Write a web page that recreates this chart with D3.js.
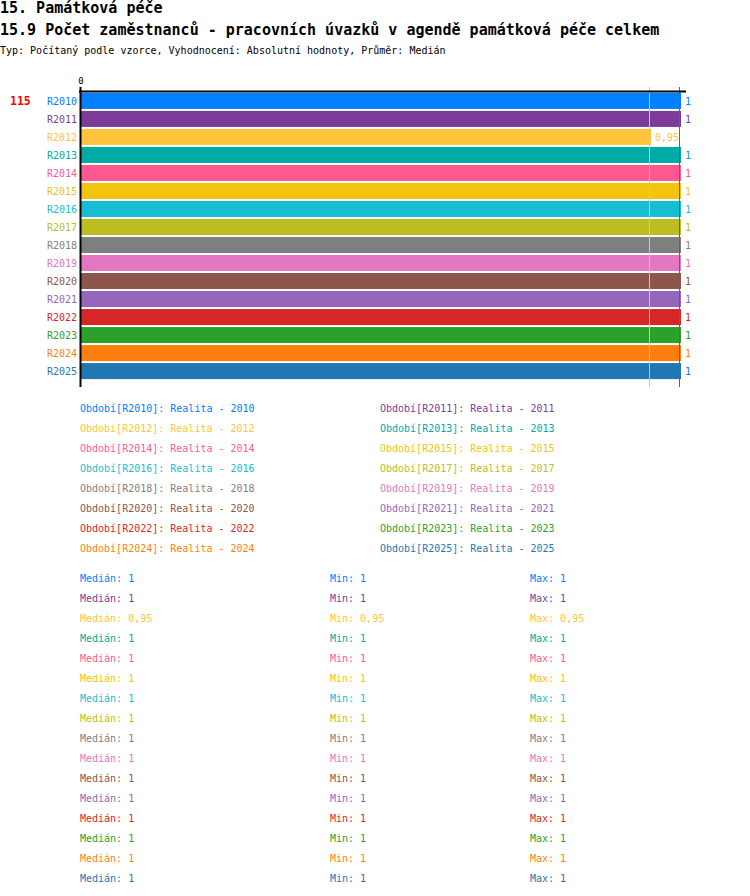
<!DOCTYPE html>
<html>
<head>
<meta charset="utf-8">
<script src="https://cdn.jsdelivr.net/npm/d3@7"></script>
<style>
  body { margin: 0; background: #fff; }
  text { font-family: "DejaVu Sans Mono", monospace; }
</style>
</head>
<body>
<div id="chart"></div>
<script>
// data
var periods = ["R2010","R2011","R2012","R2013","R2014","R2015","R2016","R2017",
               "R2018","R2019","R2020","R2021","R2022","R2023","R2024","R2025"];
var years = ["2010","2011","2012","2013","2014","2015","2016","2017",
             "2018","2019","2020","2021","2022","2023","2024","2025"];
var values = [1, 1, 0.95, 1, 1, 1, 1, 1, 1, 1, 1, 1, 1, 1, 1, 1];
var medians = [1, 1, 0.95, 1, 1, 1, 1, 1, 1, 1, 1, 1, 1, 1, 1, 1];
var mins = [1, 1, 0.95, 1, 1, 1, 1, 1, 1, 1, 1, 1, 1, 1, 1, 1];
var maxs = [1, 1, 0.95, 1, 1, 1, 1, 1, 1, 1, 1, 1, 1, 1, 1, 1];
var colors = ["#0080ff","#7d3c98","#ffc33c","#00aaa5","#ff5891","#f1c40f","#17becf","#bcbd22",
              "#7f7f7f","#e377c2","#8c564b","#9467bd","#d62728","#2ca02c","#ff7f0e","#1f77b4"];
var rankLabel = "115";
var title1 = "15. Památková péče";
var title2 = "15.9 Počet zaměstnanců - pracovních úvazků v agendě památková péče celkem";
var subtitle = "Typ: Počítaný podle vzorce, Vyhodnocení: Absolutní hodnoty, Průměr: Medián";

var fmt = function (v) { return String(v).replace(".", ","); };

var svg = d3.select("#chart").append("svg")
  .attr("width", 750).attr("height", 896);

svg.append("text").attr("x", 0).attr("y", 13)
  .style("font-size", "15px").style("font-weight", "bold").text(title1);
svg.append("text").attr("x", 0).attr("y", 35)
  .style("font-size", "15px").style("font-weight", "bold").text(title2);
svg.append("text").attr("x", 0).attr("y", 54)
  .style("font-size", "10px").text(subtitle);

// scales
var x = d3.scaleLinear().domain([0, 1]).range([81, 681]);
var y = d3.scaleBand().domain(periods).range([92, 380]).paddingInner(0.11).paddingOuter(0.05);

// bars
svg.selectAll("rect.bar").data(periods).enter().append("rect")
  .attr("class", "bar")
  .attr("x", x(0))
  .attr("y", function (d) { return y(d); })
  .attr("width", function (d, i) { return x(values[i]) - x(0); })
  .attr("height", y.bandwidth())
  .attr("fill", function (d, i) { return colors[i]; });

// median lines
svg.selectAll("line.med").data(periods).enter().append("line")
  .attr("class", "med")
  .attr("x1", function (d, i) { return x(medians[i]) - 1.5; })
  .attr("x2", function (d, i) { return x(medians[i]) - 1.5; })
  .attr("y1", 87).attr("y2", 387)
  .attr("stroke", function (d, i) { return colors[i]; })
  .attr("stroke-width", 1);

// axes lines
svg.append("line").attr("x1", 79).attr("x2", 686).attr("y1", 91.5).attr("y2", 91.5)
  .attr("stroke", "#000").attr("stroke-width", 2);
svg.append("line").attr("x1", 80.5).attr("x2", 80.5).attr("y1", 87).attr("y2", 387)
  .attr("stroke", "#000").attr("stroke-width", 2);
svg.append("text").attr("x", x(0)).attr("y", 84).attr("text-anchor", "middle")
  .style("font-size", "9px").text("0");

// row labels
svg.selectAll("text.lab").data(periods).enter().append("text")
  .attr("class", "lab")
  .attr("x", 77)
  .attr("y", function (d) { return y(d) + y.bandwidth() / 2 + 4; })
  .attr("text-anchor", "end")
  .style("font-size", "10px")
  .attr("fill", function (d, i) { return colors[i]; })
  .text(function (d) { return d; });

svg.append("text").attr("x", 10).attr("y", y(periods[0]) + y.bandwidth() / 2 + 4)
  .style("font-size", "11.5px").style("font-weight", "bold").attr("fill", "#ff0000")
  .text(rankLabel);

// value labels
svg.selectAll("text.val").data(periods).enter().append("text")
  .attr("class", "val")
  .attr("x", function (d, i) { return x(values[i]) + 4; })
  .attr("y", function (d) { return y(d) + y.bandwidth() / 2 + 4; })
  .style("font-size", "10px")
  .attr("fill", function (d, i) { return colors[i]; })
  .text(function (d, i) { return fmt(values[i]); });

// legend
svg.selectAll("text.leg").data(periods).enter().append("text")
  .attr("class", "leg")
  .attr("x", function (d, i) { return i % 2 === 0 ? 80 : 380; })
  .attr("y", function (d, i) { return 412 + Math.floor(i / 2) * 20; })
  .style("font-size", "10px")
  .attr("fill", function (d, i) { return colors[i]; })
  .text(function (d, i) { return "Období[" + d + "]: Realita - " + years[i]; });

// stats
var stats = [["Medián: ", medians, 80], ["Min: ", mins, 330], ["Max: ", maxs, 530]];
stats.forEach(function (s) {
  svg.selectAll(null).data(periods).enter().append("text")
    .attr("x", s[2])
    .attr("y", function (d, i) { return 582 + i * 20; })
    .style("font-size", "10px")
    .attr("fill", function (d, i) { return colors[i]; })
    .text(function (d, i) { return s[0] + fmt(s[1][i]); });
});
</script>
</body>
</html>
